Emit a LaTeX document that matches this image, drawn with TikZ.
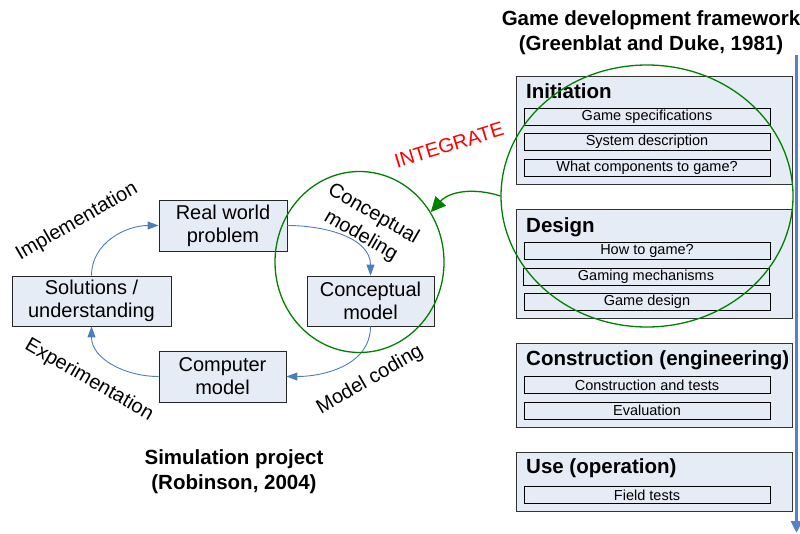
\documentclass[tikz,border=0pt]{standalone}
\usepackage{fontspec}
\setmainfont{Liberation Sans}
\usetikzlibrary{arrows.meta,shapes.geometric}

\definecolor{boxfill}{RGB}{230,236,246}
\definecolor{flowblue}{RGB}{74,126,190}
\definecolor{ringgreen}{RGB}{0,128,0}
\definecolor{timeblue}{RGB}{84,130,200}

\newcommand\headfont{\fontsize{20.5}{25}\selectfont\bfseries}
\newcommand\procfont{\fontsize{20}{23}\selectfont}
\newcommand\taskfont{\fontsize{14.5}{16}\selectfont}

\tikzset{
  stagebox/.style={draw=black!80, fill=boxfill, line width=0.8pt, inner sep=0pt, outer sep=0pt},
  stagetitle/.style={anchor=base west, inner sep=0pt, font=\headfont},
  taskbox/.style={draw=black, fill=boxfill, line width=0.9pt, minimum width=246pt,
    minimum height=17pt, inner sep=0pt, font=\taskfont},
  procbox/.style={draw=black!85, fill=boxfill, line width=0.8pt, align=center,
    inner sep=0pt, font=\procfont},
  steplabel/.style={align=center, inner sep=0pt, font=\procfont},
  flow/.style={draw=flowblue, line width=0.9pt, -{Triangle[length=11pt,width=8pt]}},
  ring/.style={ellipse, draw=ringgreen, line width=1.3pt, inner sep=0pt},
  ringarrow/.style={draw=ringgreen, line width=1.3pt, -{Triangle[length=15pt,width=14pt]}},
  timeline/.style={draw=timeblue, line width=3.2pt, -{Triangle[length=12pt,width=11pt]}},
  heading/.style={align=center, inner sep=0pt, font=\headfont}
}

\begin{document}
\begin{tikzpicture}[x=1pt,y=-1pt]
\useasboundingbox (0,0) rectangle (800,533);

% ---- Game development framework ----
\node[heading] (gtitle) at (651,33) {Game development framework\\(Greenblat and Duke, 1981)};

\node[stagebox, minimum width=276pt, minimum height=108pt] (init) at (654,130) {};
\node[stagetitle] (initT) at (526,98) {Initiation};
\node[taskbox] (i1) at (647,117) {Game specifications};
\node[taskbox] (i2) at (647,142) {System description};
\node[taskbox] (i3) at (647,167.5) {What components to game?};

\node[stagebox, minimum width=276pt, minimum height=109pt] (design) at (654,263.5) {};
\node[stagetitle] (designT) at (526,232) {Design};
\node[taskbox] (d1) at (647,250.5) {How to game?};
\node[taskbox] (d2) at (646,277) {Gaming mechanisms};
\node[taskbox] (d3) at (647,301.5) {Game design};

\node[stagebox, minimum width=276pt, minimum height=84pt] (constr) at (654,385) {};
\node[stagetitle] (constrT) at (526,365) {Construction (engineering)};
\node[taskbox] (c1) at (647,385) {Construction and tests};
\node[taskbox] (c2) at (647,410.5) {Evaluation};

\node[stagebox, minimum width=276pt, minimum height=59pt] (use) at (654,481.5) {};
\node[stagetitle] (useT) at (526,473) {Use (operation)};
\node[taskbox] (u1) at (647,495) {Field tests};

% phase progression
\coordinate (tl0) at (796.5,55);
\coordinate (tl1) at (796.5,533);
\draw[timeline] (tl0) -- (tl1);

% ---- Simulation project cycle ----
\node[procbox, minimum width=128pt, minimum height=51pt] (rw) at (223,225.5) {Real world\\problem};
\node[procbox, minimum width=159pt, minimum height=50pt] (sol) at (91.5,301) {Solutions /\\understanding};
\node[procbox, minimum width=127pt, minimum height=51pt] (comp) at (222.5,376.5) {Computer\\model};
\node[procbox, minimum width=127pt, minimum height=50pt] (cm) at (370.5,301) {Conceptual\\model};

\draw[flow] (sol.north) to[out=90,in=180] (rw.west);
\draw[flow] (rw.east) to[out=0,in=90] (cm.north);
\draw[flow] (cm.south) to[out=-90,in=0] (comp.east);
\draw[flow] (comp.west) to[out=180,in=-90] (sol.south);

\node[steplabel, rotate=30] (lImpl) at (77,222) {Implementation};
\node[steplabel, rotate=-30] (lExp) at (89,380) {Experimentation};
\node[steplabel, rotate=30] (lCode) at (370,380) {Model coding};
\node[steplabel, rotate=-30, font=\fontsize{20}{25}\selectfont] (lConc) at (367,225) {Conceptual\\modeling};

\node[heading] (stitle) at (234,472) {Simulation project\\(Robinson, 2004)};

% ---- integration ----
\node[ring, minimum width=169pt, minimum height=181pt] (smallring) at (359.5,262) {};
\node[ring, minimum width=292pt, minimum height=262pt] (bigring) at (647,196) {};
\draw[ringarrow] (bigring.west) to[out=162,in=48] (smallring.35);

\node[steplabel, rotate=17, text=red] (integ) at (449,145) {INTEGRATE};

\end{tikzpicture}
\end{document}
